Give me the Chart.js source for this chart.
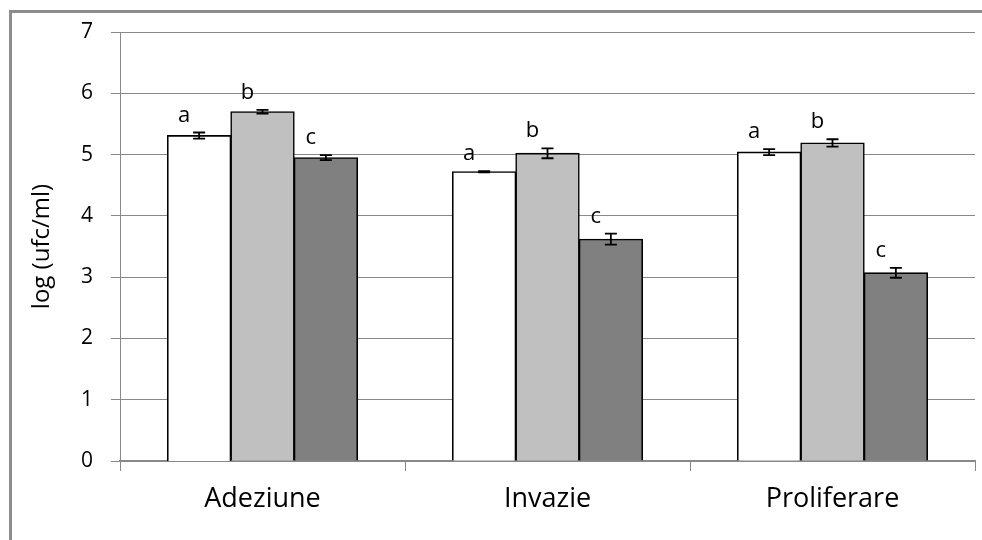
<!DOCTYPE html>
<html>
<head>
<meta charset="utf-8">
<script src="https://cdn.jsdelivr.net/npm/chart.js@4"></script>
<style>
  html, body { margin: 0; padding: 0; background: #fff; }
  #wrap { position: relative; width: 982px; height: 540px; }
  #frame {
    position: absolute; left: 9px; top: 10px; width: 990px; height: 560px;
    border-top: 3px solid #8c8c8c; border-left: 3px solid #8c8c8c;
    pointer-events: none;
  }
  canvas { position: absolute; left: 0; top: 0; }
</style>
</head>
<body>
<div id="wrap">
  <canvas id="chart" width="982" height="540"></canvas>
  <div id="frame"></div>
</div>
<script>
const categories = ['Adeziune', 'Invazie', 'Proliferare'];

const seriesA = [5.31, 4.72, 5.04];
const seriesB = [5.70, 5.02, 5.19];
const seriesC = [4.95, 3.62, 3.07];

const errA = [0.05, 0.01, 0.05];
const errB = [0.03, 0.08, 0.06];
const errC = [0.04, 0.09, 0.08];

const sigLetters = ['a', 'b', 'c'];
const yTicks = [0, 1, 2, 3, 4, 5, 6, 7];

const errors = [errA, errB, errC];

// error bars + significance letters on top of each bar
const errorBarPlugin = {
    id: 'errorBars',
    afterDatasetsDraw(chart) {
        const ctx = chart.ctx;
        const y = chart.scales.y;
        chart.data.datasets.forEach((ds, i) => {
            const meta = chart.getDatasetMeta(i);
            meta.data.forEach((bar, j) => {
                const v = ds.data[j];
                const e = errors[i][j];
                const yTop = y.getPixelForValue(v + e);
                const yBot = y.getPixelForValue(v - e);
                const cap = 6;
                ctx.save();
                ctx.strokeStyle = '#000';
                ctx.lineWidth = 1.8;
                ctx.beginPath();
                ctx.moveTo(bar.x, yTop); ctx.lineTo(bar.x, yBot);
                ctx.moveTo(bar.x - cap, yTop); ctx.lineTo(bar.x + cap, yTop);
                ctx.moveTo(bar.x - cap, yBot); ctx.lineTo(bar.x + cap, yBot);
                ctx.stroke();

                ctx.fillStyle = '#000';
                ctx.font = '22px "Open Sans"';
                ctx.textAlign = 'center';
                ctx.textBaseline = 'alphabetic';
                ctx.fillText(sigLetters[i], bar.x - 15, yTop - 11);
                ctx.restore();
            });
        });
    }
};

const ctx = document.getElementById('chart').getContext('2d');
new Chart(ctx, {
    type: 'bar',
    data: {
        labels: categories,
        datasets: [
            { data: seriesA, backgroundColor: '#ffffff' },
            { data: seriesB, backgroundColor: '#c0c0c0' },
            { data: seriesC, backgroundColor: '#808080' }
        ].map(d => Object.assign(d, {
            borderColor: '#000',
            borderWidth: 1.6,
            inflateAmount: 0.5,
            categoryPercentage: 0.667,
            barPercentage: 1.0
        }))
    },
    options: {
        responsive: false,
        animation: false,
        layout: { padding: { top: 32, right: 7, left: 0, bottom: 0 } },
        plugins: {
            legend: { display: false },
            tooltip: { enabled: false }
        },
        scales: {
            x: {
                afterFit: (s) => { s.height = 79; },
                grid: {
                    offset: true,
                    drawOnChartArea: false,
                    color: '#888',
                    tickLength: 10
                },
                border: { color: '#888', width: 2 },
                ticks: {
                    color: '#000',
                    padding: 12,
                    font: { family: 'Open Sans', size: 27 }
                }
            },
            y: {
                min: 0,
                max: 7,
                afterFit: (s) => { s.width = 120; },
                afterBuildTicks: (s) => { s.ticks = yTicks.map(v => ({ value: v })); },
                grid: { color: '#888', lineWidth: 1, tickLength: 9 },
                border: { color: '#888', width: 1 },
                ticks: {
                    color: '#000',
                    padding: 18,
                    font: { family: 'Open Sans', size: 21 }
                },
                title: {
                    display: true,
                    text: 'log (ufc/ml)',
                    color: '#000',
                    padding: { top: 28 },
                    font: { family: 'Open Sans', size: 24 }
                }
            }
        }
    },
    plugins: [errorBarPlugin]
});
</script>
</body>
</html>
